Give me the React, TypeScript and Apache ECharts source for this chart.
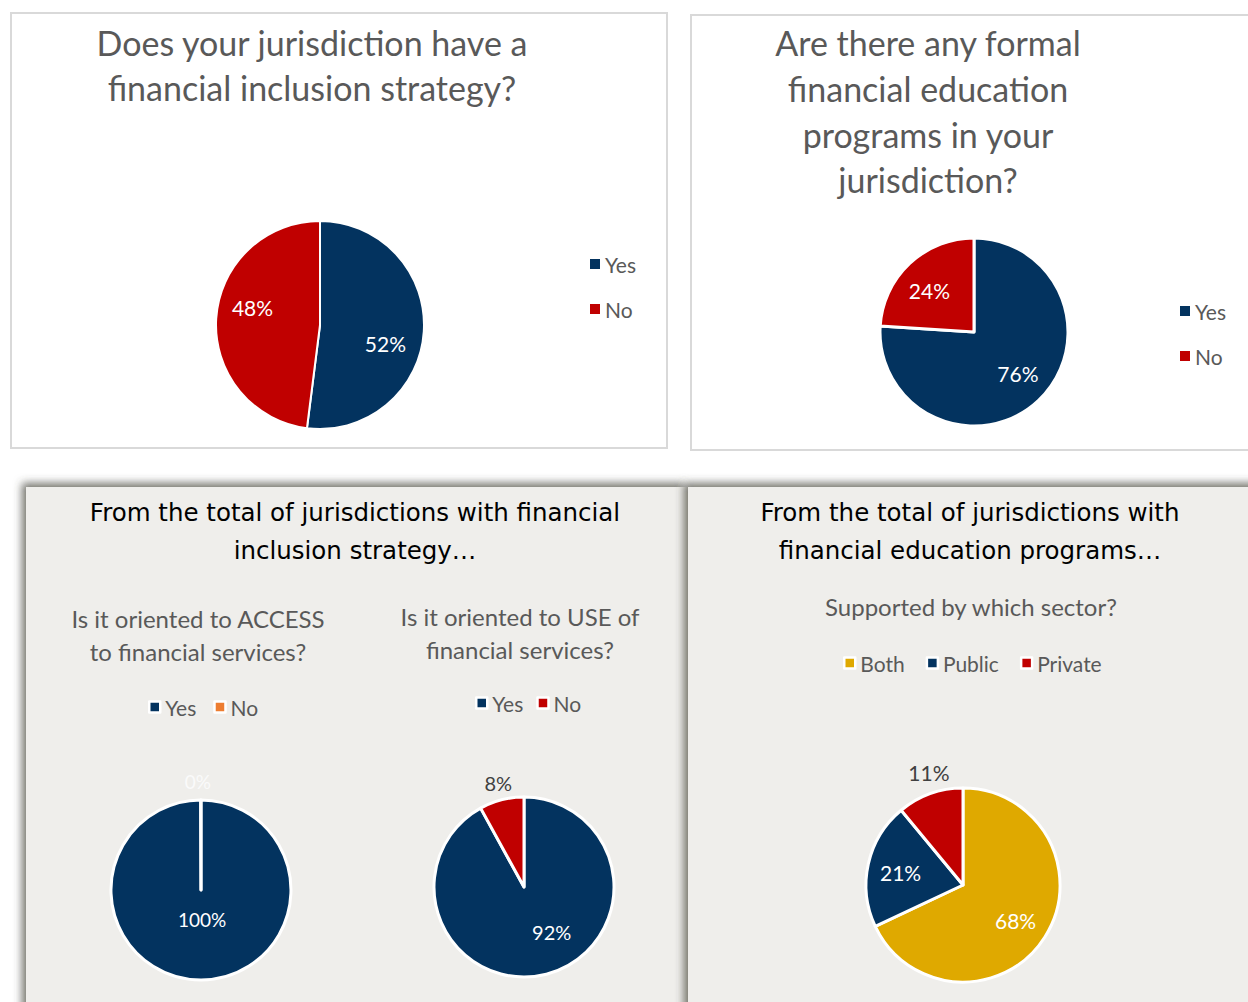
import React, { useEffect, useRef } from 'react';
import * as echarts from 'echarts';

// ---- data ----
const yesNo = ['Yes', 'No'];
const inclusionValues = [52, 48];
const educationValues = [76, 24];
const accessValues = [100, 0];
const useValues = [92, 8];
const sectorNames = ['Both', 'Public', 'Private'];
const sectorValues = [68, 21, 11];

const titleInclusion = ['Does your jurisdiction have a', 'financial inclusion strategy?'];
const titleEducation = ['Are there any formal', 'financial education', 'programs in your', 'jurisdiction?'];
const panelInclusion = ['From the total of jurisdictions with financial', 'inclusion strategy\u2026'];
const panelEducation = ['From the total of jurisdictions with', 'financial education programs\u2026'];
const subAccess = ['Is it oriented to ACCESS', 'to financial services?'];
const subUse = ['Is it oriented to USE of', 'financial services?'];
const subSector = ['Supported by which sector?'];

// ---- styles ----
const BLUE = '#03335F';
const RED = '#C00000';
const GOLD = '#DFA900';
const ORANGE = '#ED7D31';
const GREYTXT = '#595959';
const PANEL = '#EFEEEB';
const BODY_FONT = 'Lato, "Open Sans", sans-serif';
const HEAD_FONT = '"DejaVu Sans", sans-serif';

function makePie(o: any) {
  const total = o.values.reduce((a: number, b: number) => a + b, 0);
  let cum = 0;
  const mids = o.values.map((v: number) => {
    const m = 90 - (360 * (cum + v / 2)) / total;
    cum += v;
    return (m * Math.PI) / 180;
  });
  return {
    type: 'pie',
    center: o.center,
    radius: o.radius,
    startAngle: 90,
    clockwise: true,
    minAngle: o.minAngle || 0,
    avoidLabelOverlap: false,
    silent: true,
    labelLine: { show: false },
    label: {
      show: true,
      position: 'inside',
      formatter: '{c}%',
      fontFamily: BODY_FONT,
      fontSize: o.fontSize,
    },
    labelLayout: (p: any) => {
      const i = p.dataIndex;
      const k = (o.factors[i] - 0.5) * o.radius;
      const n = (o.nudge && o.nudge[i]) || [0, 0];
      return { dx: k * Math.cos(mids[i]) + n[0], dy: -k * Math.sin(mids[i]) + n[1] };
    },
    itemStyle: { borderColor: '#ffffff', borderWidth: o.borderWidth },
    emphasis: { disabled: true },
    data: o.names.map((n: string, i: number) => ({
      name: n,
      value: o.values[i],
      itemStyle: { color: o.colors[i] },
      label: { color: o.labelColors[i] },
    })),
  };
}

function textLines(lines: string[], x: number, ys: number[], font: string, size: number, fill: string, weight: any = 'normal') {
  return lines.map((t, i) => ({
    type: 'text',
    x,
    y: ys[i],
    z: 10,
    silent: true,
    style: { text: t, fontFamily: font, fontSize: size, fontWeight: weight, fill, align: 'center', verticalAlign: 'middle' },
  }));
}

function legendItems(names: string[], colors: string[], border: number) {
  return names.map((n, i) => ({
    name: n,
    icon: 'rect',
    itemStyle: { color: colors[i], borderColor: '#ffffff', borderWidth: border },
  }));
}

export default function App() {
  const ref = useRef<HTMLDivElement>(null);
  useEffect(() => {
    if (!ref.current) return;
    const chart = echarts.init(ref.current, null, { renderer: 'svg' });
    const legendText = { fontFamily: BODY_FONT, fontSize: 21, color: GREYTXT, lineHeight: 22 };
    chart.setOption({
      animation: false,
      backgroundColor: '#ffffff',
      graphic: [
        { type: 'rect', z: -5, silent: true, shape: { x: 11, y: 13, width: 656, height: 435 }, style: { fill: '#fff', stroke: '#D9D9D9', lineWidth: 2 } },
        { type: 'rect', z: -5, silent: true, shape: { x: 691, y: 15, width: 600, height: 435 }, style: { fill: '#fff', stroke: '#D9D9D9', lineWidth: 2 } },
        {
          type: 'rect', z: -4, silent: true,
          shape: { x: 26, y: 487, width: 662, height: 560 },
          style: { fill: PANEL, shadowBlur: 8, shadowColor: 'rgba(70,70,60,0.75)', shadowOffsetX: -4, shadowOffsetY: -4 },
        },
        {
          type: 'rect', z: -3, silent: true,
          shape: { x: 688, y: 487, width: 600, height: 560 },
          style: { fill: PANEL, shadowBlur: 8, shadowColor: 'rgba(70,70,60,0.75)', shadowOffsetX: -4, shadowOffsetY: -4 },
        },
        ...textLines(titleInclusion, 312, [42, 87], BODY_FONT, 34, GREYTXT),
        ...textLines(titleEducation, 928, [42, 88, 134, 179], BODY_FONT, 34, GREYTXT),
        ...textLines(panelInclusion, 355, [512, 550], HEAD_FONT, 24.5, '#000000'),
        ...textLines(panelEducation, 970, [512, 550], HEAD_FONT, 24.5, '#000000'),
        ...textLines(subAccess, 198, [618, 651], BODY_FONT, 24, GREYTXT),
        ...textLines(subUse, 520, [616, 649], BODY_FONT, 24, GREYTXT),
        ...textLines(subSector, 971, [606], BODY_FONT, 24, GREYTXT),
      ],
      legend: [
        { data: legendItems(yesNo, [BLUE, RED], 0), orient: 'vertical', left: 585, top: 248, itemGap: 23, itemWidth: 10, itemHeight: 10, selectedMode: false, textStyle: legendText },
        { data: legendItems(yesNo, [BLUE, RED], 0), orient: 'vertical', left: 1175, top: 295, itemGap: 23, itemWidth: 10, itemHeight: 10, selectedMode: false, textStyle: legendText },
        { data: legendItems(yesNo, [BLUE, ORANGE], 2.5), orient: 'horizontal', left: 143, top: 691, itemGap: 17, itemWidth: 11, itemHeight: 11, selectedMode: false, textStyle: legendText },
        { data: legendItems(yesNo, [BLUE, RED], 2.5), orient: 'horizontal', left: 470, top: 687, itemGap: 13, itemWidth: 11, itemHeight: 11, selectedMode: false, textStyle: legendText },
        { data: legendItems(sectorNames, [GOLD, BLUE, RED], 2.5), orient: 'horizontal', left: 838, top: 647, itemGap: 21, itemWidth: 11, itemHeight: 11, selectedMode: false, textStyle: legendText },
      ],
      series: [
        makePie({ names: yesNo, values: inclusionValues, colors: [BLUE, RED], center: [320, 325], radius: 104, factors: [0.65, 0.66], nudge: [[-5, 14], [4, -13]], labelColors: ['#fff', '#fff'], fontSize: 21, borderWidth: 2 }),
        makePie({ names: yesNo, values: educationValues, colors: [BLUE, RED], center: [974, 332], radius: 94, factors: [0.65, 0.63], nudge: [[0, -5], [-2, 4]], labelColors: ['#fff', '#fff'], fontSize: 21, borderWidth: 3 }),
        makePie({ names: yesNo, values: accessValues, colors: [BLUE, ORANGE], center: [201, 890], radius: 90, factors: [0.32, 1.2], nudge: [[1, -2], [-3, 2]], labelColors: ['#fff', '#FAFAFA'], fontSize: 19, borderWidth: 3, minAngle: 0.2 }),
        makePie({ names: yesNo, values: useValues, colors: [BLUE, RED], center: [524, 887], radius: 90, factors: [0.58, 1.16], nudge: [[14, -8], [1, 0]], labelColors: ['#fff', '#404040'], fontSize: 20, borderWidth: 3 }),
        makePie({ names: sectorNames, values: sectorValues, colors: [GOLD, BLUE, RED], center: [963, 885], radius: 97, factors: [0.66, 0.65, 1.19], nudge: [[-4, 0], [2, 2], [6, -1]], labelColors: ['#fff', '#fff', '#404040'], fontSize: 21, borderWidth: 3 }),
      ],
    });
    return () => chart.dispose();
  }, []);
  return <div ref={ref} style={{ position: 'absolute', left: 0, top: 0, width: 1248, height: 1002 }} />;
}
